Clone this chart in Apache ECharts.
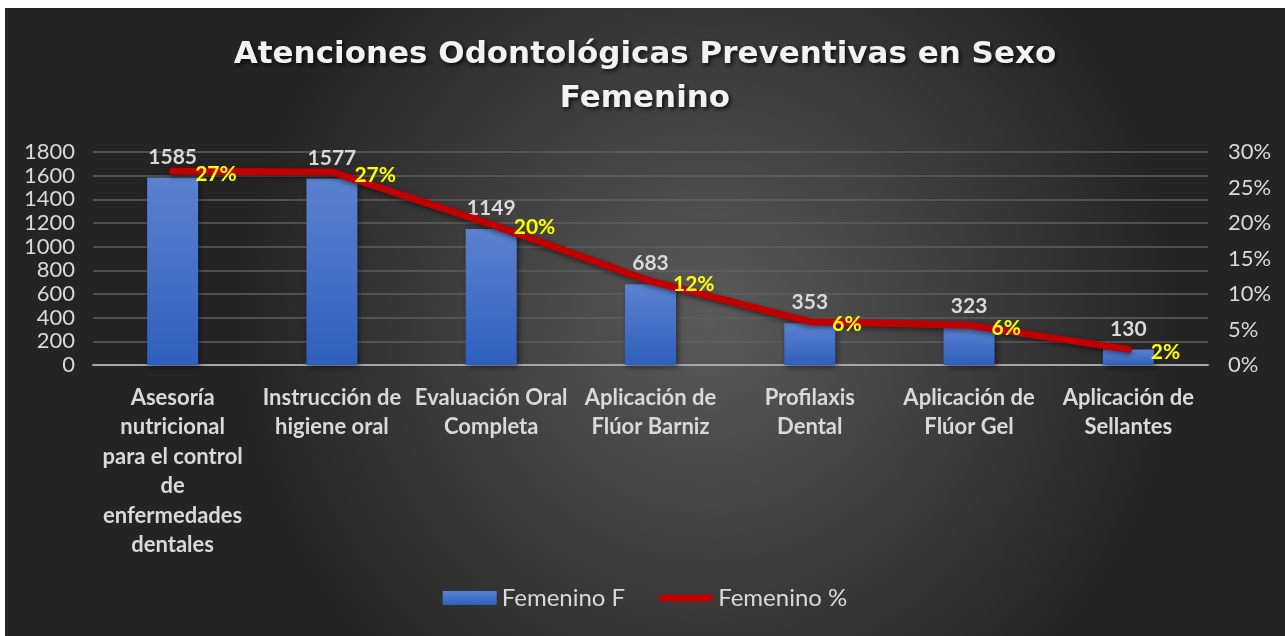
<!DOCTYPE html>
<html>
<head>
<meta charset="utf-8">
<script src="https://cdn.jsdelivr.net/npm/echarts@6/dist/echarts.min.js"></script>
<style>
html,body{margin:0;padding:0;background:#ffffff;overflow:hidden;}
#chart{position:absolute;left:5px;top:8px;width:1280px;height:628px;}
</style>
</head>
<body>
<div id="chart"></div>
<script>
var titleText = 'Atenciones Odontológicas Preventivas en Sexo\nFemenino';
var categories = [
  'Asesoría nutricional para el control de enfermedades dentales',
  'Instrucción de higiene oral',
  'Evaluación Oral Completa',
  'Aplicación de Flúor Barniz',
  'Profilaxis Dental',
  'Aplicación de Flúor Gel',
  'Aplicación de Sellantes'
];
var femeninoF = [1585, 1577, 1149, 683, 353, 323, 130];
var femeninoPct = [27.3, 27.2, 19.8, 11.8, 6.1, 5.6, 2.2];
var seriesNames = ['Femenino F', 'Femenino %'];

// approximate width of a string in "character units" (wide letters count more)
function textUnits(s) {
  var u = 0;
  for (var i = 0; i < s.length; i++) {
    var c = s[i];
    u += (c === 'm' || c === 'M' || c === 'w' || c === 'W') ? 1.5 : 1;
  }
  return u;
}
function wrapLabel(text) {
  var maxUnits = 15;
  var words = text.split(' ');
  var lines = [];
  var cur = '';
  words.forEach(function (w) {
    if (cur === '') { cur = w; }
    else if (textUnits(cur + ' ' + w) <= maxUnits) { cur += ' ' + w; }
    else { lines.push(cur); cur = w; }
  });
  if (cur) lines.push(cur);
  return lines.join('\n');
}

var chart = echarts.init(document.getElementById('chart'));
var font = 'Lato';
var lineIcon = 'path://M0,0L0.01,0L0.01,0.01Z M54,14L54.01,14L54.01,13.99Z M3.5,3.5L50.5,3.5A3.5,3.5 0 0 1 50.5,10.5L3.5,10.5A3.5,3.5 0 0 1 3.5,3.5Z';
var option = {
  backgroundColor: {
    type: 'radial', x: 0.55, y: 0.5, r: 0.75,
    colorStops: [{offset: 0, color: '#5a5a5a'}, {offset: 1, color: '#242424'}]
  },
  title: {
    text: titleText,
    left: 'center', top: 20,
    textStyle: {
      color: '#f2f2f2', fontFamily: 'DejaVu Sans', fontWeight: 'bold', fontSize: 31,
      lineHeight: 44,
      textShadowColor: 'rgba(0,0,0,0.8)', textShadowBlur: 4, textShadowOffsetX: 2, textShadowOffsetY: 2
    }
  },
  legend: {
    bottom: 21, left: 'center', itemGap: 34, itemWidth: 54, itemHeight: 14,
    textStyle: {color: '#d9d9d9', fontFamily: font, fontSize: 24},
    data: [
      {name: seriesNames[0], icon: 'rect'},
      {name: seriesNames[1], icon: lineIcon, itemStyle: {color: '#c00000'}}
    ]
  },
  grid: {left: 88, right: 77, top: 144, bottom: 271, containLabel: false},
  xAxis: {
    type: 'category', data: categories,
    axisLine: {lineStyle: {color: '#a6a6a6', width: 2}},
    axisTick: {show: false},
    axisLabel: {
      interval: 0, color: '#d9d9d9', fontFamily: font, fontWeight: 'bold', fontSize: 22,
      lineHeight: 29.5, margin: 18, formatter: wrapLabel
    }
  },
  yAxis: [
    {
      type: 'value', min: 0, max: 1800, interval: 200,
      axisLine: {show: false}, axisTick: {show: false},
      splitLine: {lineStyle: {color: '#5f5f5f', width: 1.5}},
      axisLabel: {color: '#d9d9d9', fontFamily: font, fontSize: 22, margin: 18,
        formatter: function (v) { return String(v); }}
    },
    {
      type: 'value', min: 0, max: 30, interval: 5,
      axisLine: {show: false}, axisTick: {show: false},
      splitLine: {show: false},
      axisLabel: {color: '#d9d9d9', fontFamily: font, fontSize: 22, margin: 20, formatter: '{value}%'}
    }
  ],
  series: [
    {
      name: seriesNames[0], type: 'bar', data: femeninoF, barWidth: '32%',
      itemStyle: {
        color: {type: 'linear', x: 0, y: 0, x2: 0, y2: 1,
          colorStops: [{offset: 0, color: '#5b82d0'}, {offset: 1, color: '#2f5fbd'}]},
        shadowColor: 'rgba(0,0,0,0.5)', shadowBlur: 6, shadowOffsetX: 2, shadowOffsetY: 2
      },
      label: {show: true, position: 'top', distance: 10, color: '#d9d9d9', fontFamily: font, fontWeight: 'bold', fontSize: 21}
    },
    {
      name: seriesNames[1], type: 'line', yAxisIndex: 1, data: femeninoPct,
      symbol: 'circle', symbolSize: 1, showSymbol: true,
      lineStyle: {color: '#c00000', width: 7, cap: 'round', join: 'round',
        shadowColor: 'rgba(0,0,0,0.5)', shadowBlur: 5, shadowOffsetY: 2},
      itemStyle: {color: '#c00000'},
      label: {show: true, position: 'right', distance: 22, offset: [0, 3], color: '#ffff00', fontFamily: font, fontWeight: 'bold', fontSize: 21,
        formatter: function (p) { return Math.round(p.value) + '%'; }},
      z: 5
    }
  ]
};
chart.setOption(option);
</script>
</body>
</html>
